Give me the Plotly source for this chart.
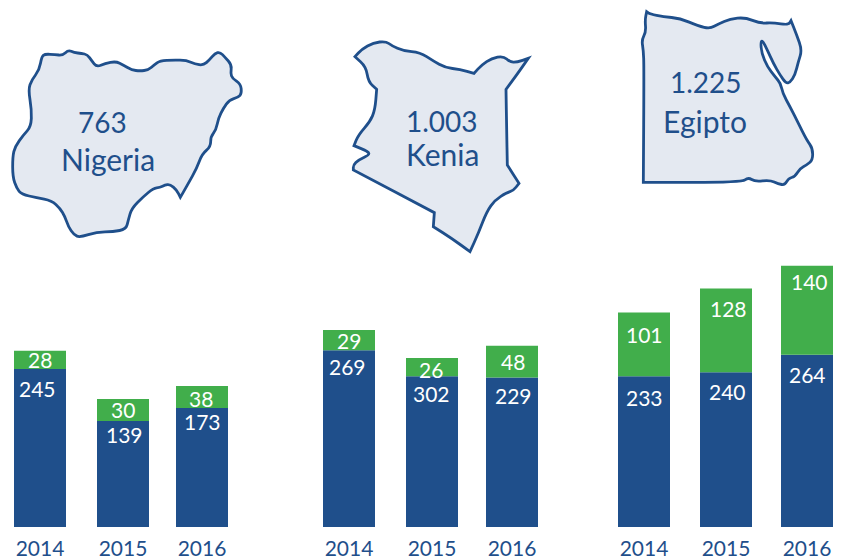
import plotly.graph_objects as go

# --- data ---
years = ["2014", "2015", "2016"]
countries = ["Nigeria", "Kenia", "Egipto"]
totals = ["763", "1.003", "1.225"]

# printed labels
nigeria_blue_labels = ["245", "139", "173"]
nigeria_green_labels = ["28", "30", "38"]
kenia_blue_labels = ["269", "302", "229"]
kenia_green_labels = ["29", "26", "48"]
egipto_blue_labels = ["233", "240", "264"]
egipto_green_labels = ["101", "128", "140"]

# bar heights as drawn (the source's bars are not all proportional to their labels)
nigeria_blue = [243, 163, 183]
nigeria_green = [28, 34, 34]
kenia_blue = [272, 232, 230]
kenia_green = [31, 28, 49]
egipto_blue = [232, 238, 265]
egipto_green = [98, 129, 137]

# --- layout constants ---
W, H = 846, 559
BASE_PX = 527
PX_PER_UNIT = 0.65
BAR_W = 52
CENTERS = [[40, 123, 202], [349, 432, 512], [644, 726, 807]]
BLUE = "#1f4f8b"
GREEN = "#41ae4b"
FILL = "#e4e9f1"
# label offsets (dx, dy below segment top) in pixels
BLUE_OFF = [[(-3, 19), (1, 13), (0, 13)], [(-2, 16), (-1, 17), (1, 18)], [(0, 21), (1, 19), (0, 20)]]
GREEN_OFF = [[(0, 9), (0, 11), (-1, 13)], [(0, 10), (-1, 11), (1, 16)], [(0, 22), (2, 20), (2, 16)]]

NIGERIA_OUT = (0, 30, [(125,80),(135,72),(165,74),(188,76),(205,60),(222,68),(245,70),(262,74),(275,92),(290,111),(315,100),(348,94),(370,105),(395,120),(420,123),(445,120),(462,105),(480,92),(520,90),(560,91),(585,102),(610,106),(628,90),(645,70),(660,66),(675,82),(695,104),(692,130),(697,145),(722,162),(725,190),(715,202),(688,210),(670,235),(655,265),(648,300),(632,320),(632,350),(606,372),(590,415),(565,460),(541,502),(541,502),(530,480),(510,463),(495,465),(480,472),(460,475),(430,500),(395,535),(385,570),(378,598),(340,605),(290,606),(240,622),(222,615),(205,590),(195,560),(180,535),(155,512),(110,503),(65,493),(50,475),(38,440),(38,380),(45,350),(70,315),(93,290),(95,240),(85,178),(95,150),(118,120)])
KENIA_OUT = (340, 30, [(45,80),(45,80),(65,58),(100,38),(138,34),(155,47),(190,63),(240,67),(280,93),(315,113),(360,118),(402,130),(402,130),(425,105),(455,85),(490,78),(510,96),(530,97),(565,85),(565,85),(530,135),(498,178),(498,178),(500,300),(502,405),(502,405),(537,460),(537,460),(520,482),(500,488),(465,510),(440,545),(415,610),(390,665),(390,665),(335,625),(280,590),(280,590),(283,548),(283,548),(40,420),(40,420),(40,405),(55,390),(88,375),(85,365),(42,347),(42,347),(55,315),(90,275),(105,240),(110,178),(110,178),(85,155),(78,110)])
EGIPTO_OUT = (630, 0, [(50,35),(50,35),(60,42),(100,50),(150,55),(205,78),(240,86),(265,72),(300,57),(345,52),(390,70),(430,68),(475,75),(483,62),(483,62),(500,105),(516,150),(505,185),(495,225),(480,247),(468,250),(450,225),(430,190),(412,150),(398,122),(392,125),(395,160),(412,200),(435,230),(452,250),(458,280),(480,320),(505,370),(530,420),(548,445),(548,480),(530,495),(510,505),(495,530),(475,535),(465,555),(445,552),(420,540),(375,545),(355,532),(335,547),(40,547),(40,547),(42,200),(40,150),(35,120),(48,95),(45,60)])
TEXT_POS = [[(102, 122), (108, 159)], [(442, 121), (442, 154)], [(706, 82), (705, 121)]]
TOTAL_SIZE, NAME_SIZE = 28, 30


def outline(spec):
    ox, oy, pts = spec
    p = [((x / 3 + ox) / W, 1 - (y / 3 + oy) / H) for x, y in pts]
    n = len(p)
    mid = lambda a, b: ((a[0] + b[0]) / 2, (a[1] + b[1]) / 2)
    s = mid(p[-1], p[0])
    d = f"M {s[0]:.5f} {s[1]:.5f}"
    for i in range(n):
        m = mid(p[i], p[(i + 1) % n])
        d += f" Q {p[i][0]:.5f} {p[i][1]:.5f} {m[0]:.5f} {m[1]:.5f}"
    return d + " Z"


blue_sets = [nigeria_blue, kenia_blue, egipto_blue]
green_sets = [nigeria_green, kenia_green, egipto_green]
blue_labels = [nigeria_blue_labels, kenia_blue_labels, egipto_blue_labels]
green_labels = [nigeria_green_labels, kenia_green_labels, egipto_green_labels]

fig = go.Figure()
annotations = []
LABEL_FONT = dict(family="Lato", size=21, color="white")
for c, country in enumerate(countries):
    fig.add_bar(x=CENTERS[c], y=blue_sets[c], width=BAR_W, marker=dict(color=BLUE, line_width=0),
                name=country + " azul", customdata=years)
    fig.add_bar(x=CENTERS[c], y=green_sets[c], base=blue_sets[c], width=BAR_W,
                marker=dict(color=GREEN, line_width=0), name=country + " verde", customdata=years)
    for i in range(3):
        bv, gv = blue_sets[c][i], green_sets[c][i]
        annotations.append(dict(x=CENTERS[c][i], y=bv, xref="x", yref="y", text=blue_labels[c][i],
                                showarrow=False, font=LABEL_FONT, xanchor="center", yanchor="middle",
                                xshift=BLUE_OFF[c][i][0], yshift=-BLUE_OFF[c][i][1]))
        annotations.append(dict(x=CENTERS[c][i], y=bv + gv, xref="x", yref="y", text=green_labels[c][i],
                                showarrow=False, font=LABEL_FONT, xanchor="center", yanchor="middle",
                                xshift=GREEN_OFF[c][i][0], yshift=-GREEN_OFF[c][i][1]))
    for text, size, (px, py) in zip([totals[c], country], [TOTAL_SIZE, NAME_SIZE], TEXT_POS[c]):
        annotations.append(dict(x=px / W, y=1 - py / H, xref="paper", yref="paper", text=text,
                                showarrow=False, xanchor="center", yanchor="middle",
                                font=dict(family="Lato", size=size, color=BLUE)))

shapes = [dict(type="path", xref="paper", yref="paper", path=outline(s), fillcolor=FILL,
               line=dict(color=BLUE, width=2.8), layer="below")
          for s in (NIGERIA_OUT, KENIA_OUT, EGIPTO_OUT)]

fig.update_layout(
    width=W, height=H, margin=dict(l=0, r=0, t=0, b=0, autoexpand=False), barmode="overlay",
    paper_bgcolor="white", plot_bgcolor="white", showlegend=False,
    shapes=shapes, annotations=annotations,
    xaxis=dict(range=[0, W], tickmode="array", tickvals=[x for g in CENTERS for x in g],
               ticktext=years * 3, ticks="outside", ticklen=3, tickcolor="rgba(0,0,0,0)",
               automargin=False, showgrid=False, zeroline=False, showline=False,
               tickfont=dict(family="Lato", size=21, color=BLUE)),
    yaxis=dict(domain=[(H - BASE_PX) / H, 1], range=[0, BASE_PX / PX_PER_UNIT], visible=False),
)
fig.write_html("out.html", post_script="document.body.style.margin='0';",
               config={"displayModeBar": False})
